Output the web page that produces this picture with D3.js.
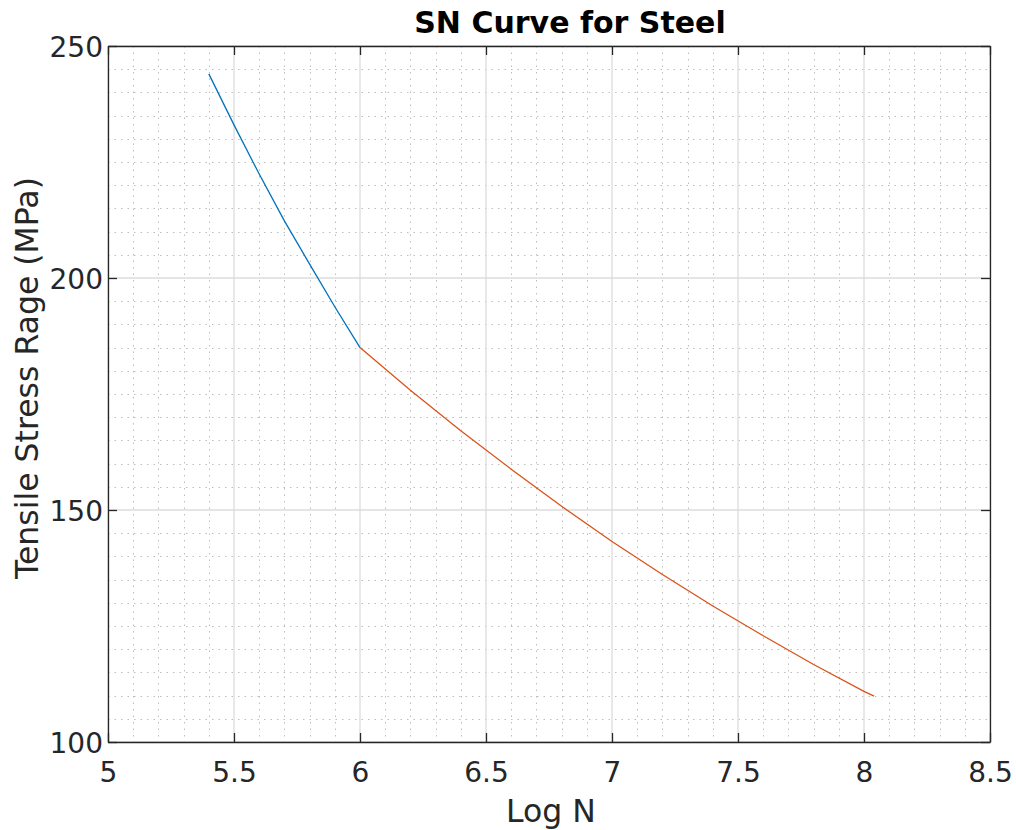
<!DOCTYPE html>
<html><head><meta charset="utf-8">
<script src="https://cdn.jsdelivr.net/npm/d3@7"></script>
<style>body{margin:0;background:#fff}text{font-family:"DejaVu Sans",sans-serif;fill:#262626}</style>
</head><body><svg id="c" width="1016" height="830"></svg>
<script>
// Data
const blueLogN = [5.4, 5.5, 5.6, 5.7, 5.8, 5.9, 6.0];
const blueStress = [244, 233, 222.4, 212.3, 203, 193.8, 185];
const redLogN = [6.0, 6.2, 6.4, 6.6, 6.8, 7.0, 7.2, 7.4, 7.6, 7.8, 8.0, 8.04];
const redStress = [185, 175.8, 167.1, 158.8, 150.8, 143.2, 136.1, 129.3, 122.9, 116.7, 110.9, 109.9];
const xTicks = [5, 5.5, 6, 6.5, 7, 7.5, 8, 8.5];
const yTicks = [100, 150, 200, 250];
const titleText = "SN Curve for Steel";
const xLabel = "Log N";
const yLabel = "Tensile Stress Rage (MPa)";

const L = 108, R = 990, T = 46, B = 742;
const svg = d3.select("#c");
const x = d3.scaleLinear().domain([5, 8.5]).range([L, R]);
const y = d3.scaleLinear().domain([100, 250]).range([B, T]);

const xMinor = d3.range(50, 85).map(d => d / 10).filter(v => !xTicks.some(t => Math.abs(t - v) < 1e-9));
const yMinor = d3.range(100, 251, 5).filter(v => !yTicks.includes(v));

const g = svg.append("g");
g.selectAll(".mx").data(xMinor).join("line")
  .attr("x1", d => Math.round(x(d)) + 0.5).attr("x2", d => Math.round(x(d)) + 0.5)
  .attr("y1", T).attr("y2", B)
  .attr("stroke", "#bdbdbd").attr("stroke-width", 1).attr("stroke-dasharray", "1.5,5");
g.selectAll(".my").data(yMinor).join("line")
  .attr("y1", d => Math.round(y(d)) + 0.5).attr("y2", d => Math.round(y(d)) + 0.5)
  .attr("x1", L).attr("x2", R)
  .attr("stroke", "#bdbdbd").attr("stroke-width", 1).attr("stroke-dasharray", "1.5,5");
g.selectAll(".gx").data(xTicks).join("line")
  .attr("x1", d => x(d)).attr("x2", d => x(d)).attr("y1", T).attr("y2", B)
  .attr("stroke", "#dcdcdc").attr("stroke-width", 1.3);
g.selectAll(".gy").data(yTicks).join("line")
  .attr("y1", d => y(d)).attr("y2", d => y(d)).attr("x1", L).attr("x2", R)
  .attr("stroke", "#dcdcdc").attr("stroke-width", 1.3);

const line = d3.line().x(d => x(d[0])).y(d => y(d[1]));
svg.append("path").datum(blueLogN.map((v, i) => [v, blueStress[i]]))
  .attr("d", line).attr("fill", "none").attr("stroke", "#0072BD").attr("stroke-width", 1.3);
svg.append("path").datum(redLogN.map((v, i) => [v, redStress[i]]))
  .attr("d", line).attr("fill", "none").attr("stroke", "#D95319").attr("stroke-width", 1.3);

const tl = 9;
const xAxB = d3.axisBottom(x).tickValues(xTicks).tickSize(-tl).tickFormat(d3.format("~g"));
const xAxT = d3.axisTop(x).tickValues(xTicks).tickSize(-tl).tickFormat("");
const yAxL = d3.axisLeft(y).tickValues(yTicks).tickSize(-tl);
const yAxR = d3.axisRight(y).tickValues(yTicks).tickSize(-tl).tickFormat("");
function style(sel) {
  sel.selectAll("path.domain").attr("stroke", "#262626").attr("stroke-width", 1.3);
  sel.selectAll(".tick line").attr("stroke", "#262626").attr("stroke-width", 1.3);
  sel.selectAll(".tick text").attr("font-size", 28).attr("font-family", "DejaVu Sans").attr("fill", "#262626");
}
const gb = svg.append("g").attr("transform", `translate(0,${B})`).call(xAxB.tickSizeOuter(0)); style(gb);
const gt = svg.append("g").attr("transform", `translate(0,${T})`).call(xAxT.tickSizeOuter(0)); style(gt);
const gl = svg.append("g").attr("transform", `translate(${L},0)`).call(yAxL.tickSizeOuter(0)); style(gl);
const gr = svg.append("g").attr("transform", `translate(${R},0)`).call(yAxR.tickSizeOuter(0)); style(gr);
gb.selectAll(".tick text").attr("dy", null).attr("y", 782 - B);
gl.selectAll(".tick text").attr("x", 103 - L).attr("dy", "0.36em");

svg.append("text").attr("x", 570).attr("y", 33).attr("text-anchor", "middle")
  .attr("font-size", 30).attr("font-weight", "bold").style("fill", "#000").text(titleText);
svg.append("text").attr("x", 551).attr("y", 822).attr("text-anchor", "middle")
  .attr("font-size", 31.5).text(xLabel);
svg.append("text").attr("transform", "translate(38,378) rotate(-90)").attr("text-anchor", "middle")
  .attr("font-size", 31.5).text(yLabel);
</script></body></html>
